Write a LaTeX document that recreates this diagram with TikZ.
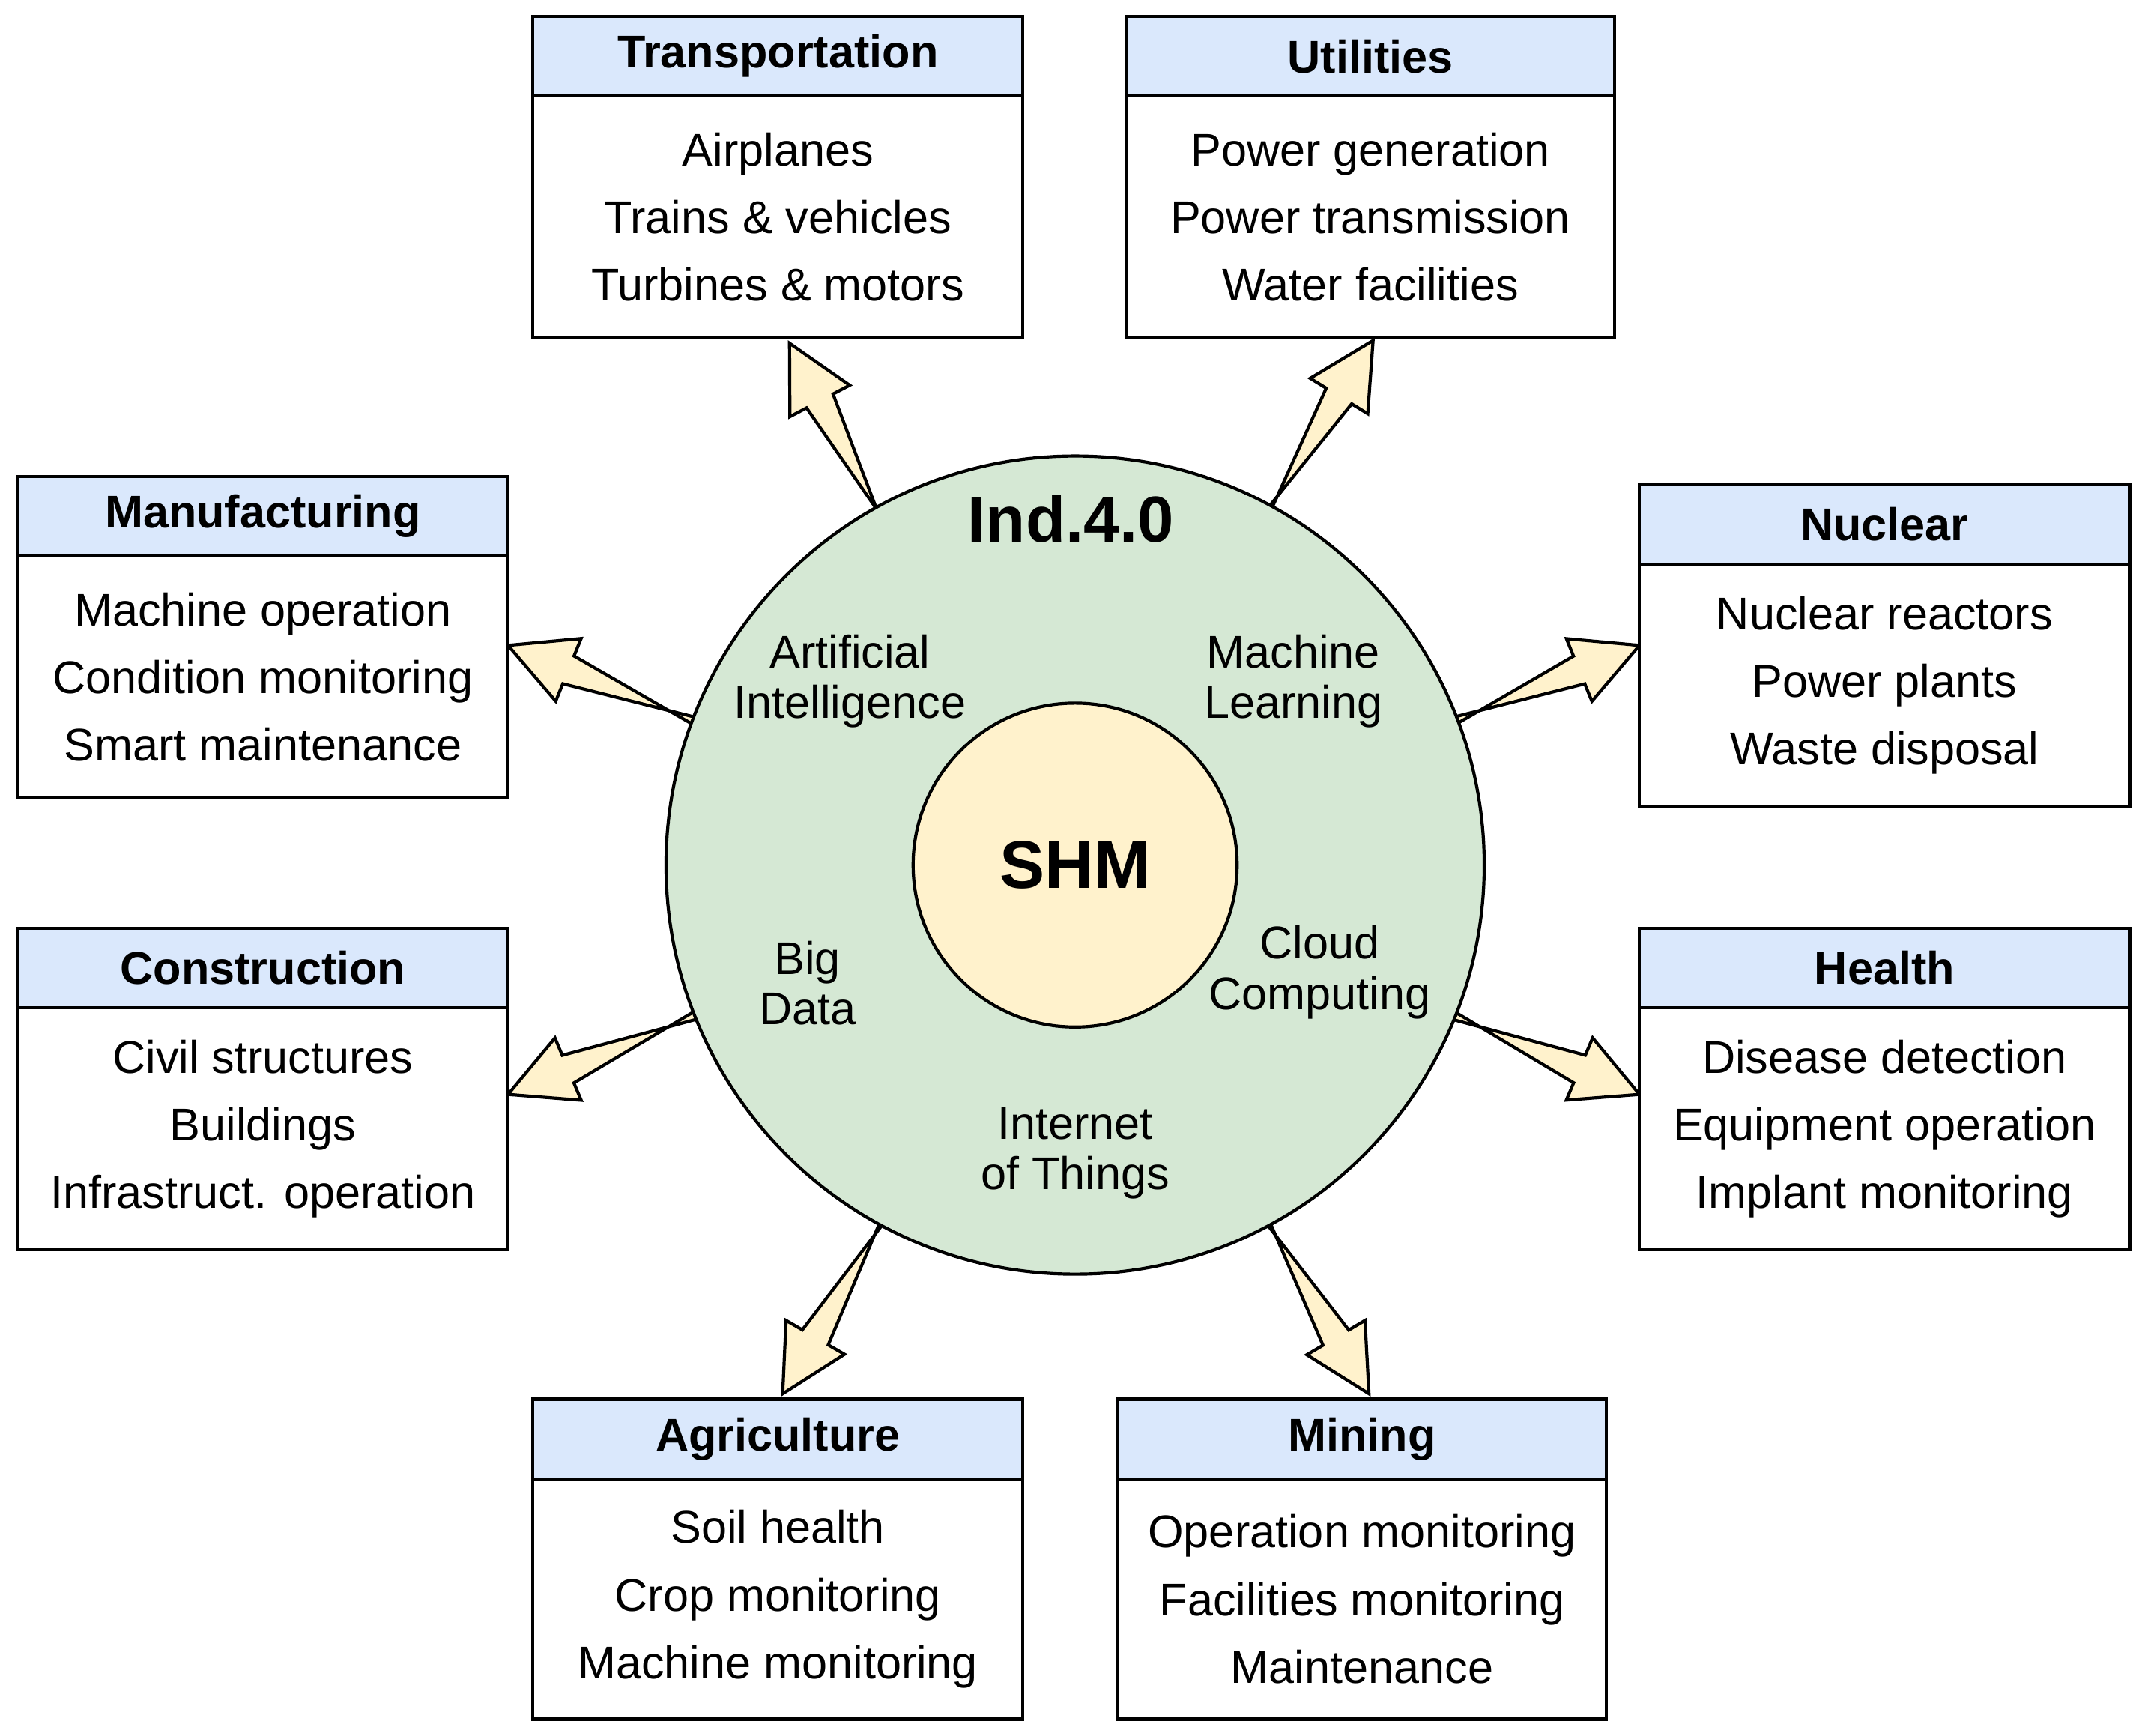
\documentclass[tikz,border=0pt]{standalone}
\usepackage{fontspec}
\setmainfont{Liberation Sans}
\usetikzlibrary{calc}
\definecolor{hdr}{HTML}{DAE8FC}
\definecolor{grn}{HTML}{D5E8D4}
\definecolor{ylw}{HTML}{FFF2CC}
\definecolor{arr}{HTML}{FFF2CC}
\begin{document}
\begin{tikzpicture}[x=0.02cm,y=-0.02cm,
  txt/.style={font=\fontsize{19}{22}\selectfont, align=center},
  hd/.style={font=\bfseries\fontsize{19}{22}\selectfont},
  box/.style={draw=black, line width=1.3pt},
  ol/.style={draw=black, line width=1.3pt, fill=arr, line join=miter}]
\useasboundingbox (0,0) rectangle (1560,1264);
% fat arrows
\newcommand\fatarrow[2]{%
  \path ($(#2)!27pt!(#1)$) coordinate (H);
  \draw[ol] ($(#1)!6.2pt!90:(#2)$) -- ($(H)!6.2pt!-90:(#2)$) -- ($(H)!14pt!-90:(#2)$) -- (#2)
    -- ($(H)!14pt!90:(#2)$) -- ($(H)!6.2pt!90:(#2)$) -- ($(#1)!6.2pt!-90:(#2)$) -- cycle;}
\coordinate (s1) at (680,450); \coordinate (e1) at (575,250);
\coordinate (s2) at (885,435); \coordinate (e2) at (1000,248);
\coordinate (s3) at (560,547); \coordinate (e3) at (370,470);
\coordinate (s4) at (1005,547); \coordinate (e4) at (1194,470);
\coordinate (s5) at (560,717); \coordinate (e5) at (370,797);
\coordinate (s6) at (1005,717); \coordinate (e6) at (1194,797);
\coordinate (s7) at (680,825); \coordinate (e7) at (570,1015);
\coordinate (s8) at (885,825); \coordinate (e8) at (997,1015);
\foreach \i in {1,...,8}{\fatarrow{s\i}{e\i}}
% circles
\node[circle, draw, line width=1.3pt, fill=grn, minimum size=11.92cm, inner sep=0] (outer) at (783,630) {};
\node[circle, draw, line width=1.3pt, fill=ylw, minimum size=4.72cm, inner sep=0] (inner) at (783,630) {};
\node[font=\bfseries\fontsize{27}{30}\selectfont] (ind) at (780,378) {Ind.4.0};
\node[font=\bfseries\fontsize{28}{30}\selectfont] (shm) at (783,630) {SHM};
\node[txt] (ai) at (619,496) {Artificial\\[-1pt]Intelligence};
\node[txt] (ml) at (942,496) {Machine\\[-1pt]Learning};
\node[txt] (bd) at (588,716) {Big\\[-1pt]Data};
\node[txt] (cc) at (961,708) {Cloud\\[-1pt]Computing};
\node[txt] (iot) at (783,840) {Internet\\[-1pt]of Things};
% boxes
\newcommand\appbox[8]{% name, x1, y1, x2, y3, title, l1, l2, l3 -> uses #8 as lines
  \draw[box, fill=hdr] (#2,#3) rectangle (#4,#3+58);
  \draw[box, fill=white] (#2,#3+58) rectangle (#4,#5);
  \node[hd] (#1h) at ({(#2+#4)/2},#3+29) {#6};
  \node[txt] (#1) at ({(#2+#4)/2},{(#3+58+#5)/2}) {#7};}
\appbox{tr}{388}{12}{745}{246}{Transportation}{Airplanes\\[6pt]Trains \& vehicles\\[6pt]Turbines \& motors}{}
\appbox{ut}{820}{12}{1176}{246}{Utilities}{Power generation\\[6pt]Power transmission\\[6pt]Water facilities}{}
\appbox{ma}{13}{347}{370}{581}{Manufacturing}{Machine operation\\[6pt]Condition monitoring\\[6pt]Smart maintenance}{}
\appbox{nu}{1194}{353}{1551}{587}{Nuclear}{Nuclear reactors\\[6pt]Power plants\\[6pt]Waste disposal}{}
\appbox{co}{13}{676}{370}{910}{Construction}{Civil structures\\[6pt]Buildings\\[6pt]Infrastruct. operation}{}
\appbox{he}{1194}{676}{1551}{910}{Health}{Disease detection\\[6pt]Equipment operation\\[6pt]Implant monitoring}{}
\appbox{ag}{388}{1019}{745}{1252}{Agriculture}{Soil health\\[6pt]Crop monitoring\\[6pt]Machine monitoring}{}
\appbox{mi}{814}{1019}{1170}{1252}{Mining}{Operation monitoring\\[6pt]Facilities monitoring\\[6pt]Maintenance}{}
\end{tikzpicture}
\end{document}
